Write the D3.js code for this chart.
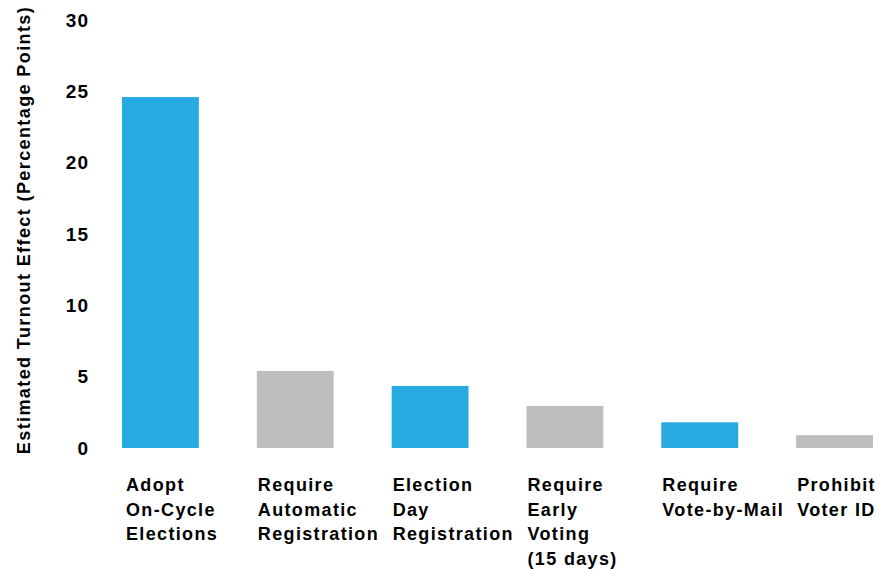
<!DOCTYPE html>
<html lang="en">
<head>
<meta charset="UTF-8">
<title>Estimated Turnout Effect</title>
<script src="https://d3js.org/d3.v7.min.js"></script>
<style>
  body { margin: 0; background: #fff; }
  text { font-family: "Liberation Sans", Arial, Helvetica, sans-serif; font-weight: bold; fill: #000; }
</style>
</head>
<body>
<div id="chart"></div>
<script>
// data
const policies = [
  ["Adopt", "On-Cycle", "Elections"],
  ["Require", "Automatic", "Registration"],
  ["Election", "Day", "Registration"],
  ["Require", "Early", "Voting", "(15 days)"],
  ["Require", "Vote-by-Mail"],
  ["Prohibit", "Voter ID"]
];
const effects = [24.6, 5.4, 4.35, 2.95, 1.8, 0.9];
const barColors = ["#27aae1", "#bcbec0", "#27aae1", "#bcbec0", "#27aae1", "#bcbec0"];
const yTicks = [0, 5, 10, 15, 20, 25, 30];

const width = 883, height = 569;

const svg = d3.select('#chart')
  .append('svg')
  .attr('width', width)
  .attr('height', height);

const x = d3.scaleBand()
  .domain(d3.range(policies.length))
  .range([122, 873])
  .paddingInner(0.43)
  .paddingOuter(0);

const y = d3.scaleLinear()
  .domain([0, 30])
  .range([448, 20]);

// y axis, labels only
const yAxis = d3.axisLeft(y)
  .tickValues(yTicks)
  .tickSize(0)
  .tickPadding(0);

const gy = svg.append('g')
  .attr('transform', 'translate(89,0)')
  .call(yAxis);
gy.select('.domain').remove();
gy.selectAll('text')
  .attr('font-size', '19px')
  .attr('letter-spacing', '1px')
  .attr('font-family', '"Liberation Sans", Arial, sans-serif')
  .attr('font-weight', 'bold')
  .attr('fill', '#000');

// axis title
svg.append('text')
  .attr('transform', 'translate(30,' + 230 + ') rotate(-90)')
  .attr('text-anchor', 'middle')
  .attr('font-size', '18px')
  .attr('letter-spacing', '1.4px')
  .text('Estimated Turnout Effect (Percentage Points)');

// bars
svg.selectAll('rect.bar')
  .data(effects)
  .enter()
  .append('rect')
  .attr('class', 'bar')
  .attr('x', (d, i) => x(i))
  .attr('y', d => y(d))
  .attr('width', x.bandwidth())
  .attr('height', d => y(0) - y(d))
  .attr('fill', (d, i) => barColors[i]);

// category labels, multi-line
const labels = svg.selectAll('text.cat')
  .data(policies)
  .enter()
  .append('text')
  .attr('class', 'cat')
  .attr('font-size', '18px')
  .attr('letter-spacing', '1.35px')
  .attr('x', (d, i) => x(i) + (i === 0 ? 4 : 1))
  .attr('y', 491);

labels.selectAll('tspan')
  .data((d, i) => d.map(t => ({ t, i })))
  .enter()
  .append('tspan')
  .attr('x', d => x(d.i) + (d.i === 0 ? 4 : 1))
  .attr('dy', (d, j) => j === 0 ? 0 : 24.5)
  .text(d => d.t);
</script>
</body>
</html>
